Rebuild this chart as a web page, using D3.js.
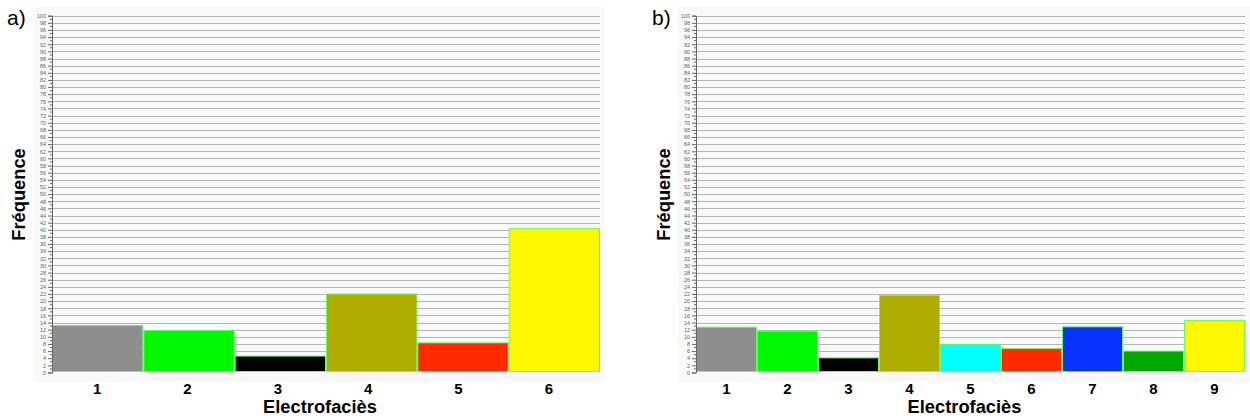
<!DOCTYPE html>
<html><head><meta charset="utf-8">
<script src="https://cdn.jsdelivr.net/npm/d3@7/dist/d3.min.js"></script>
<style>body{margin:0;background:#fff}svg{display:block}text{font-family:"Liberation Sans",Arial,sans-serif}</style>
</head><body><svg id="c" width="1250" height="419"></svg>
<script>
// Panel a)
const catsA = ["1","2","3","4","5","6"];
const valsA = [13.2, 11.8, 4.6, 22.0, 8.3, 40.3];
const colorsA = ["#8e8e8e","#00f800","#000000","#adad00","#ff2a00","#fcf800"];
// Panel b)
const catsB = ["1","2","3","4","5","6","7","8","9"];
const valsB = [12.7, 11.6, 4.1, 21.6, 7.9, 6.7, 12.8, 6.0, 14.6];
const colorsB = ["#8e8e8e","#00f800","#000000","#adad00","#00ffff","#ff2a00","#0a32ff","#00a800","#fcf800"];
const yTicks = d3.range(0, 101, 2);
const yMinor = d3.range(1, 100, 2);
const xTitle = "Electrofaciès", yTitle = "Fréquence";

const svg = d3.select("#c");

function panel(o){
  const g = svg.append("g");
  const y = d3.scaleLinear().domain([0,100]).range([372.5, 15.7]);
  const x = d3.scaleBand().domain(o.cats).range([o.x0, o.x1]).padding(0);
  const xl = d3.scaleBand().domain(o.cats).range([o.x0, o.x1 - o.labShrink]).padding(0);
  g.append("rect").attr("x", o.px0).attr("y", 7).attr("width", o.px1 - o.px0).attr("height", 375).attr("fill", "#f9f9f9");
  // gridlines
  g.append("g").selectAll("line").data(yTicks.filter(d=>d>0)).join("line")
    .attr("x1", o.x0).attr("x2", o.x1).attr("y1", d=>Math.round(y(d))+0.5).attr("y2", d=>Math.round(y(d))+0.5)
    .attr("stroke", "#b6b6b6").attr("stroke-width", 1);
  // bars
  g.append("g").selectAll("rect").data(o.vals).join("rect")
    .attr("x", (d,i)=>x(o.cats[i])+0.5).attr("width", x.bandwidth()-1)
    .attr("y", d=>y(d)).attr("height", d=>y(0)-y(d)-1)
    .attr("fill", (d,i)=>o.colors[i]).attr("stroke", "#6cf86c").attr("stroke-width", 1);
  // y axis
  const ax = g.append("g").attr("transform", `translate(${o.x0},0)`)
    .call(d3.axisLeft(y).tickValues(yTicks).tickSize(4).tickPadding(2).tickFormat(d3.format("d")));
  ax.select(".domain").attr("stroke", "#666");
  ax.selectAll(".tick line").attr("stroke", "#666");
  ax.selectAll("text").attr("font-size", 5.5).attr("fill", "#666");
  g.append("g").selectAll("line").data(yMinor).join("line")
    .attr("x1", o.x0-2).attr("x2", o.x0).attr("y1", d=>y(d)).attr("y2", d=>y(d)).attr("stroke", "#666");
  // x labels
  g.append("g").selectAll("text").data(o.cats).join("text")
    .attr("x", d=>xl(d)+xl.bandwidth()/2).attr("y", 394)
    .attr("text-anchor", "middle").attr("font-size", 15).attr("font-weight", "bold").text(d=>d);
  g.append("text").attr("x", (o.x0+o.x1)/2 - 6).attr("y", 412.5).attr("text-anchor", "middle")
    .attr("font-size", 18.3).attr("font-weight", "bold").text(xTitle);
  g.append("text").attr("transform", `translate(${o.px0-8},194.5) rotate(-90)`).attr("text-anchor", "middle")
    .attr("font-size", 18.3).attr("font-weight", "bold").text(yTitle);
  g.append("text").attr("x", o.px0-26).attr("y", 25).attr("font-size", 21).text(o.tag);
}

panel({cats: catsA, vals: valsA, colors: colorsA, x0: 52, x1: 600, px0: 33, px1: 605, labShrink: 6, tag: "a)"});
panel({cats: catsB, vals: valsB, colors: colorsB, x0: 696, x1: 1245, px0: 678, px1: 1250, labShrink: 0, tag: "b)"});
</script></body></html>
